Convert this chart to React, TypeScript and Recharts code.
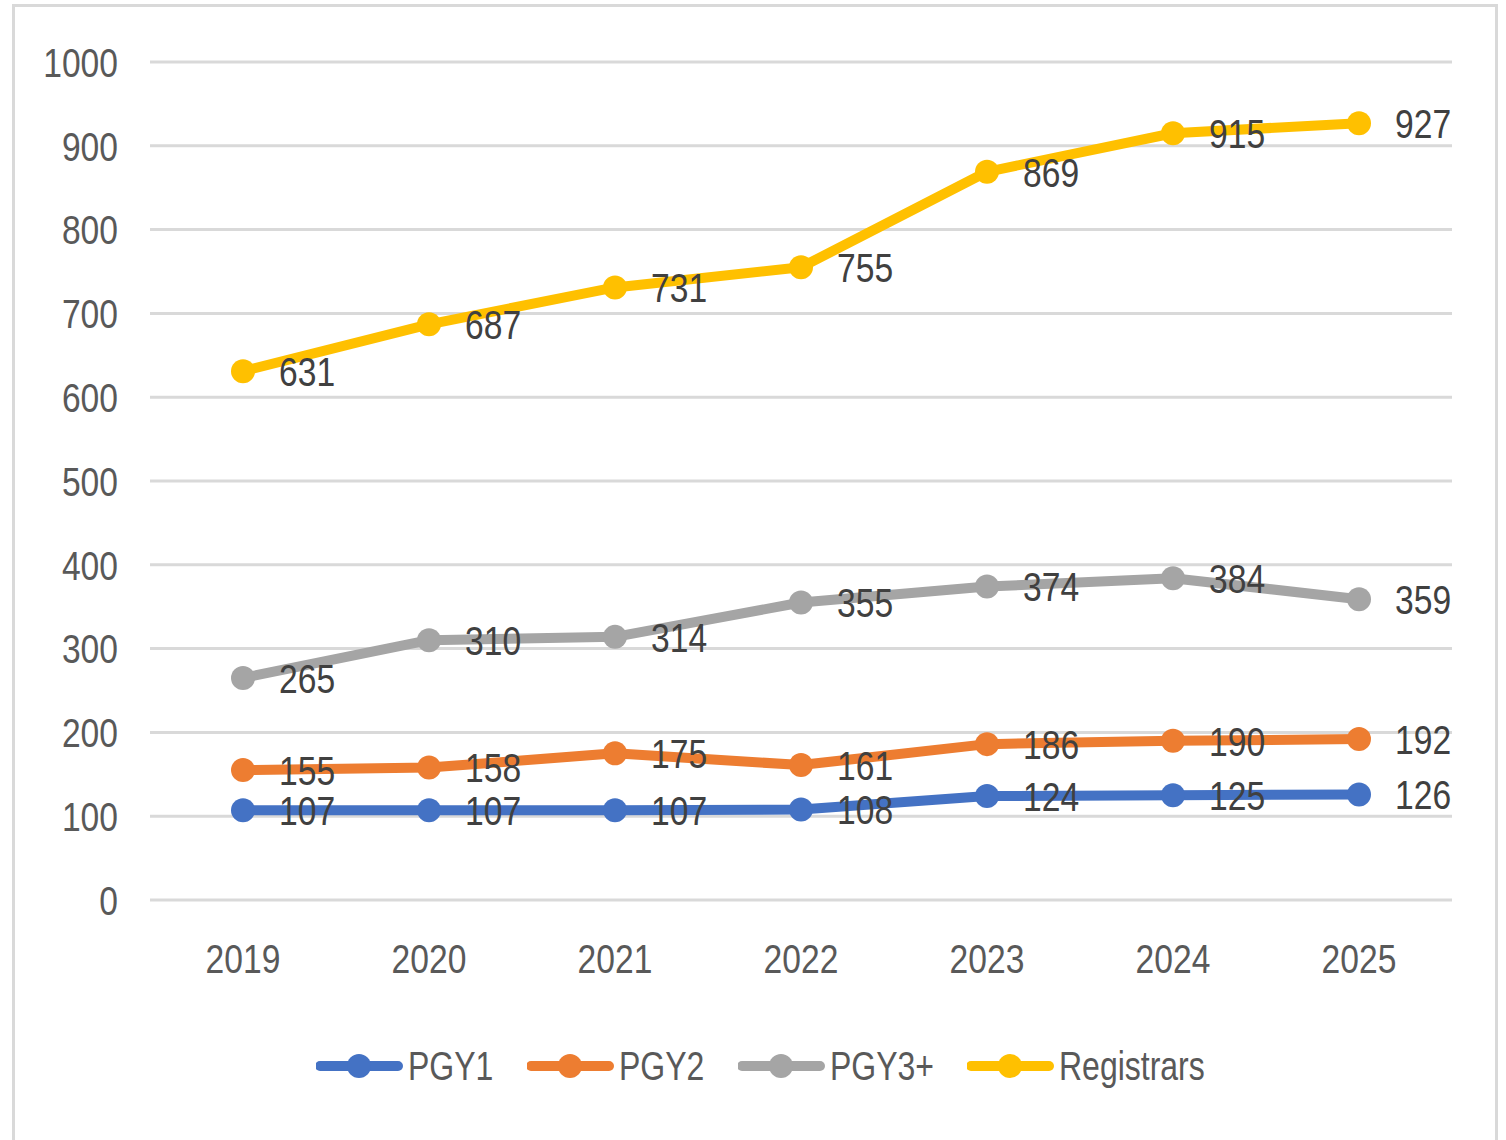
import { CartesianGrid, LabelList, Line, LineChart, XAxis, YAxis } from "recharts";

const years = ["2019", "2020", "2021", "2022", "2023", "2024", "2025"];
const pgy1 = [107, 107, 107, 108, 124, 125, 126];
const pgy2 = [155, 158, 175, 161, 186, 190, 192];
const pgy3 = [265, 310, 314, 355, 374, 384, 359];
const registrars = [631, 687, 731, 755, 869, 915, 927];
const yTicks = [0, 100, 200, 300, 400, 500, 600, 700, 800, 900, 1000];

const seriesList = [
  { key: "pgy1", name: "PGY1", color: "#4472C4" },
  { key: "pgy2", name: "PGY2", color: "#ED7D31" },
  { key: "pgy3", name: "PGY3+", color: "#A5A5A5" },
  { key: "registrars", name: "Registrars", color: "#FFC000" },
];

const data = years.map((year, i) => ({
  year,
  pgy1: pgy1[i],
  pgy2: pgy2[i],
  pgy3: pgy3[i],
  registrars: registrars[i],
}));

const FONT = "'Liberation Sans', Arial, sans-serif";
const SQUEEZE = 0.82;

// text squeezed horizontally, like the condensed look of the original
function NarrowText({ x, y, anchor, dy, fill, children }: any) {
  return (
    <text
      transform={`translate(${x},${y}) scale(${SQUEEZE},1)`}
      x={0}
      y={0}
      dy={dy}
      fontSize={41}
      fontFamily={FONT}
      fill={fill}
      textAnchor={anchor}
    >
      {children}
    </text>
  );
}

const YTick = (props: any) => (
  <NarrowText x={props.x} y={props.y} anchor="end" dy="0.36em" fill="#595959">
    {props.payload.value}
  </NarrowText>
);

const XTick = (props: any) => (
  <NarrowText x={props.x} y={props.y} anchor="middle" dy="0.71em" fill="#595959">
    {props.payload.value}
  </NarrowText>
);

const renderLabel = (props: any) => (
  <NarrowText x={props.x + 36} y={props.y} anchor="start" dy="0.36em" fill="#404040">
    {props.value}
  </NarrowText>
);

function LegendRow() {
  const lefts = [316, 527, 738, 967];
  return (
    <>
      {seriesList.map((s, i) => (
        <div
          key={s.key}
          style={{
            position: "absolute",
            left: lefts[i],
            top: 1040,
            height: 52,
            display: "flex",
            alignItems: "center",
            fontFamily: FONT,
            fontSize: 41,
            color: "#595959",
            whiteSpace: "nowrap",
          }}
        >
          <svg width={90} height={30}>
            <line x1={4} y1={15} x2={82} y2={15} stroke={s.color} strokeWidth={10} strokeLinecap="round" />
            <circle cx={43} cy={15} r={12} fill={s.color} />
          </svg>
          <span style={{ display: "inline-block", transform: "scaleX(0.78)", transformOrigin: "left center", marginLeft: 2 }}>
            {s.name}
          </span>
        </div>
      ))}
    </>
  );
}

export default function App() {
  return (
    <div style={{ position: "absolute", left: 0, top: 0, width: 1506, height: 1140, background: "#fff", overflow: "hidden" }}>
      <div
        style={{
          position: "absolute",
          left: 12,
          top: 4,
          width: 1480,
          height: 1160,
          border: "3px solid #D9D9D9",
        }}
      />
      <LineChart
        width={1506}
        height={1140}
        data={data}
        margin={{ top: 62, right: 54, left: 0, bottom: 160 }}
        style={{ position: "absolute", left: 0, top: 0 }}
      >
        <CartesianGrid stroke="#D9D9D9" strokeWidth={3} vertical={false} />
        <XAxis
          dataKey="year"
          scale="band"
          axisLine={false}
          tickLine={false}
          tickSize={0}
          tickMargin={44}
          height={80}
          interval={0}
          tick={<XTick />}
        />
        <YAxis
          domain={[0, 1000]}
          ticks={yTicks}
          width={150}
          axisLine={false}
          tickLine={false}
          tickSize={0}
          tickMargin={32}
          tick={<YTick />}
        />
        {seriesList.map((s) => (
          <Line
            key={s.key}
            type="linear"
            dataKey={s.key}
            name={s.name}
            stroke={s.color}
            strokeWidth={10}
            strokeLinecap="round"
            strokeLinejoin="round"
            dot={{ r: 12, fill: s.color, stroke: "none" }}
            activeDot={false}
            isAnimationActive={false}
          >
            <LabelList dataKey={s.key} content={renderLabel} />
          </Line>
        ))}
      </LineChart>
      <LegendRow />
    </div>
  );
}
